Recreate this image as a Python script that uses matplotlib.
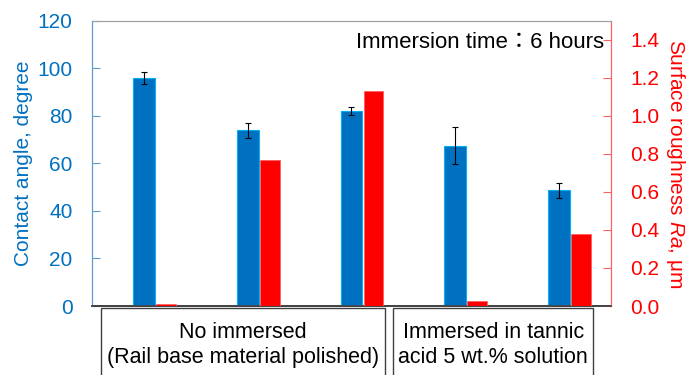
import matplotlib
matplotlib.use("Agg")
import matplotlib.pyplot as plt
from matplotlib.patches import Rectangle
import numpy as np

plt.rcParams["font.family"] = ["Liberation Sans", "Noto Sans CJK JP", "DejaVu Sans"]
plt.rcParams["mathtext.fontset"] = "custom"
plt.rcParams["mathtext.it"] = "Liberation Sans:italic"
plt.rcParams["mathtext.rm"] = "Liberation Sans"

# data
contact_angle = [95.9, 73.8, 82.0, 67.4, 48.6]
contact_err = [2.5, 3.0, 1.7, 7.8, 3.1]
roughness = [0.009, 0.768, 1.13, 0.025, 0.377]
group_labels = ["No immersed\n(Rail base material polished)",
                "Immersed in tannic\nacid 5 wt.% solution"]
group_boxes = [(-0.41, 2.32), (2.40, 4.33)]

C_BLUE = "#0070C0"
C_BLUE_EDGE = "#00B0F0"
C_RED = "#FF0000"

fig = plt.figure(figsize=(6.99, 3.75), dpi=100)
ax = fig.add_axes([0.1316, 0.184, 0.7424, 0.761])
ax2 = ax.twinx()

x = np.arange(len(contact_angle))
ax.bar(x, contact_angle, width=0.21, color=C_BLUE, edgecolor=C_BLUE_EDGE,
       linewidth=0.8, yerr=contact_err,
       error_kw=dict(ecolor="black", elinewidth=0.8, capsize=2, capthick=0.8), zorder=3)
ax2.bar(x + 0.213, roughness, width=0.19, color=C_RED, edgecolor="#FF6060",
        linewidth=0.6, zorder=3)

ax.set_xlim(-0.5, 4.5)
ax.set_ylim(0, 120)
ax2.set_ylim(0, 1.5)
ax.set_yticks(range(0, 121, 20))
rticks = np.arange(0, 1.41, 0.2)
ax2.set_yticks(rticks)
ax2.set_yticklabels([f"{v:.1f}" for v in rticks])
ax.set_xticks([])

ax.tick_params(axis="y", direction="in", colors="#5B9BD5", labelcolor=C_BLUE,
               labelsize=15, length=6, pad=14)
ax2.tick_params(axis="y", direction="in", colors="#FF6060", labelcolor=C_RED,
                labelsize=15, length=6, pad=14)

ax.set_ylabel("Contact angle, degree", color=C_BLUE, fontsize=15, labelpad=3)
ax2.set_ylabel("Surface roughness $\\it{Ra}$, μm", color=C_RED, fontsize=15,
               rotation=270, labelpad=20)

for a in (ax, ax2):
    a.spines["top"].set_color("#A0A0A0")
    a.spines["bottom"].set_color("#404040")
    a.spines["left"].set_color("#5B9BD5")
    a.spines["right"].set_color("#FF6060")
    a.spines["bottom"].set_linewidth(1.2)

ax.text(0.9865, 0.925, "Immersion time：6 hours", transform=ax.transAxes,
        ha="right", va="center", fontsize=16, color="black")

# category boxes under the axis
trans = ax.get_xaxis_transform()
for (left, right), lab in zip(group_boxes, group_labels):
    rect = Rectangle((left, -0.3), right - left, 0.292, transform=trans,
                     fill=False, edgecolor="#404040", linewidth=1.0, clip_on=False)
    ax.add_patch(rect)
    ax.text((left + right) / 2, -0.137, lab, transform=trans, ha="center",
            va="center", fontsize=15.5, linespacing=1.22)

fig.savefig("out.png", dpi=100)
